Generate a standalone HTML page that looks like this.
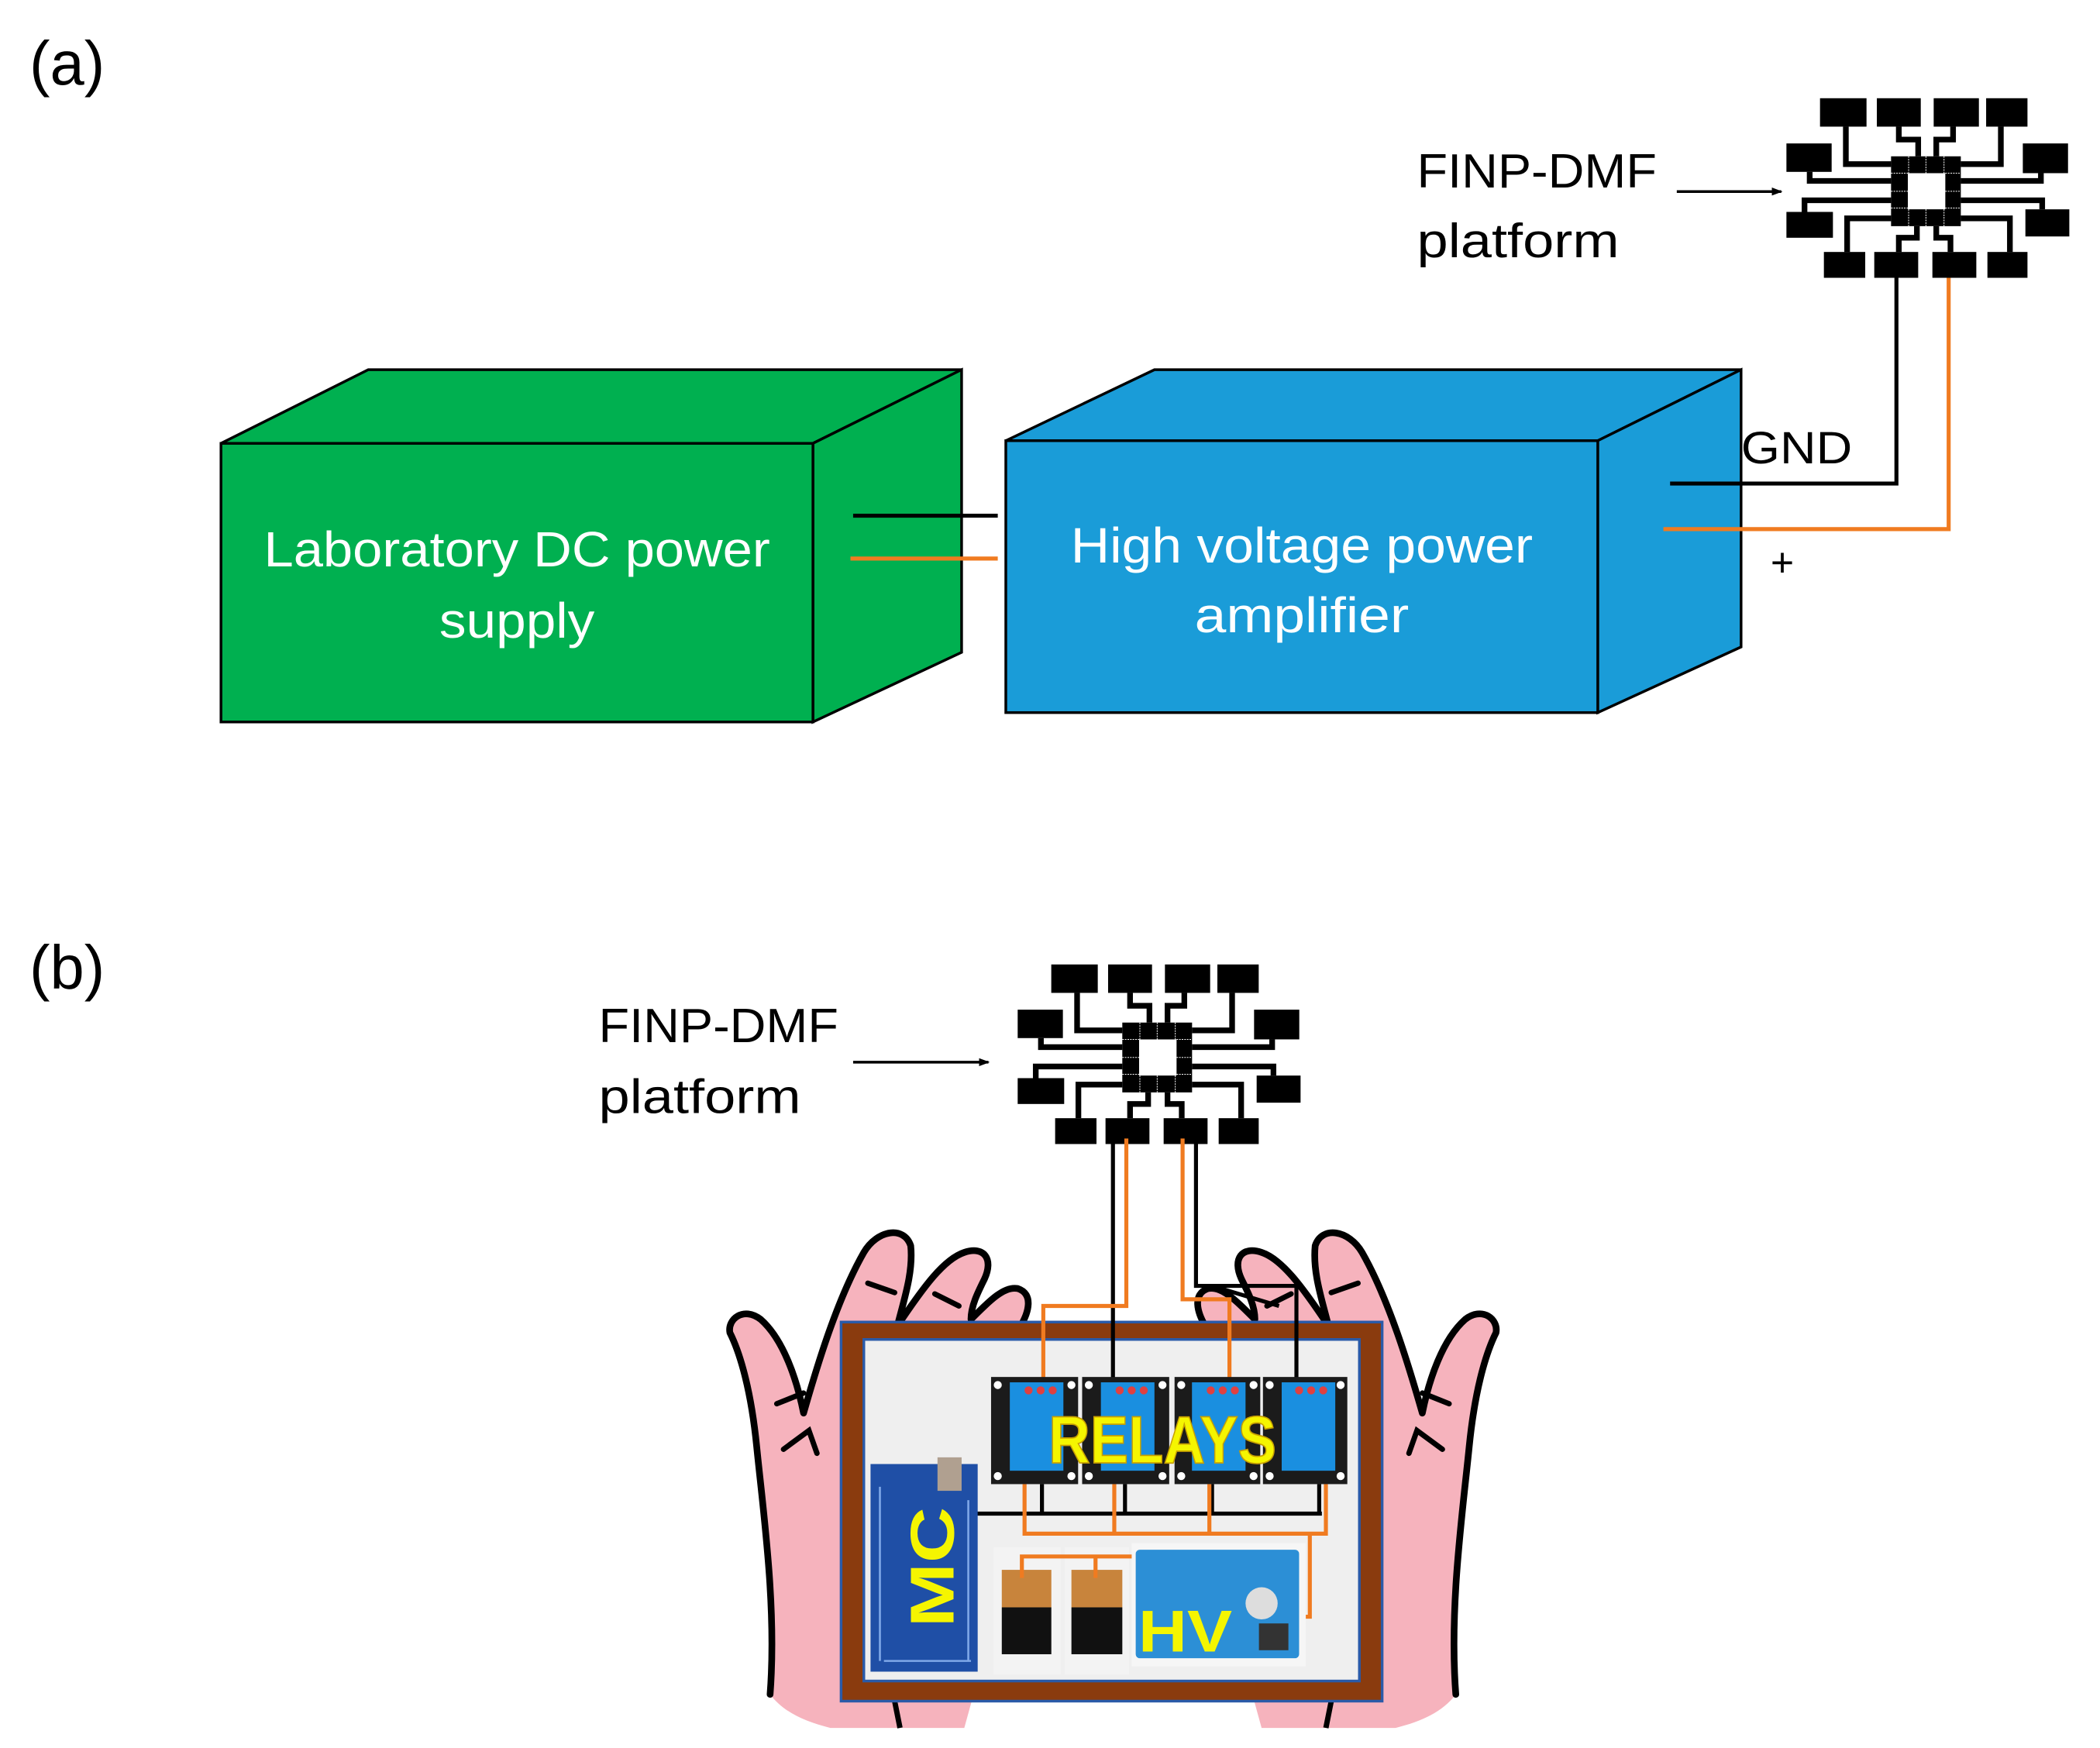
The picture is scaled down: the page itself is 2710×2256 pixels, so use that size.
<!DOCTYPE html>
<html><head><meta charset="utf-8"><style>html,body{margin:0;padding:0;background:#fff;}svg{display:block}</style></head>
<body>
<svg width="2710" height="2256" viewBox="0 0 1568 1305" preserveAspectRatio="none" xmlns="http://www.w3.org/2000/svg" font-family="'Liberation Sans', 'DejaVu Sans', sans-serif">
<defs>
<g id="chip">
 <g fill="#000">
  <rect x="205" y="80" width="180" height="110"/><rect x="425" y="80" width="170" height="110"/>
  <rect x="645" y="80" width="175" height="110"/><rect x="848" y="80" width="160" height="110"/>
  <rect x="75" y="255" width="175" height="110"/><rect x="75" y="520" width="180" height="100"/>
  <rect x="990" y="255" width="175" height="115"/><rect x="1000" y="510" width="170" height="105"/>
  <rect x="220" y="675" width="160" height="100"/><rect x="415" y="675" width="170" height="100"/>
  <rect x="640" y="675" width="170" height="100"/><rect x="853" y="675" width="155" height="100"/>
  <path d="M480 305 H750 V575 H480 Z M545 370 V510 H690 V370 Z" fill-rule="evenodd"/>
 </g>
 <g fill="none" stroke="#000" stroke-width="22">
  <path d="M305 190 V335 H480"/><path d="M510 190 V240 H585 V305"/>
  <path d="M720 190 V240 H655 V305"/><path d="M905 190 V335 H750"/>
  <path d="M165 365 V400 H480"/><path d="M145 520 V475 H480"/>
  <path d="M1060 370 V400 H750"/><path d="M1065 510 V475 H750"/>
  <path d="M310 675 V545 H480"/><path d="M510 675 V620 H580 V575"/>
  <path d="M710 675 V620 H655 V575"/><path d="M940 675 V545 H750"/>
 </g>
 <g stroke="#fff" stroke-width="3" stroke-dasharray="6 4">
  <path d="M480 370 H545 M480 440 H545 M480 505 H545 M690 370 H750 M690 440 H750 M690 505 H750 M548 305 V370 M615 305 V370 M685 305 V370 M548 510 V575 M615 510 V575 M685 510 V575"/>
 </g>
</g>
<g id="hand">
 <path d="M575 1265 C580 1200 570 1130 565 1080 C560 1030 550 1005 545 995 C543 985 555 975 568 985 C585 1000 595 1030 600 1055 C610 1020 625 970 645 935 C655 918 675 915 680 930 C682 950 675 970 670 990 C690 960 705 940 720 935 C735 930 742 940 735 955 C730 965 725 975 725 985 C740 970 750 960 760 962 C772 966 768 980 762 990 L800 1000 L720 1290 L620 1290 C600 1285 585 1278 575 1265 Z" fill="#f6b3bd"/>
 <path d="M575 1265 C580 1200 570 1130 565 1080 C560 1030 550 1005 545 995 C543 985 555 975 568 985 C585 1000 595 1030 600 1055 C610 1020 625 970 645 935 C655 918 675 915 680 930 C682 950 675 970 670 990 C690 960 705 940 720 935 C735 930 742 940 735 955 C730 965 725 975 725 985 C740 970 750 960 760 962 C772 966 768 980 762 990" fill="none" stroke="#000" stroke-width="5" stroke-linejoin="round" stroke-linecap="round"/>
 <path d="M580 1048 L600 1040 M585 1082 L604 1068 L610 1085 M648 958 L668 965 M698 966 L716 975" fill="none" stroke="#000" stroke-width="4" stroke-linecap="round"/>
 <line x1="668" y1="1270" x2="672" y2="1290" stroke="#000" stroke-width="4"/>
</g>
<marker id="ah" markerWidth="8" markerHeight="8" refX="7" refY="4" orient="auto" markerUnits="userSpaceOnUse"><path d="M0 1 L8 4 L0 7 Z" fill="#000"/></marker>
</defs>

<text x="22" y="63" font-size="46" fill="#000">(a)</text>

<polygon points="165,331 275,276 718,276 607,331" fill="#00b050" stroke="#000" stroke-width="2"/>
<polygon points="607,331 718,276 718,487 607,539" fill="#00b050" stroke="#000" stroke-width="2"/>
<rect x="165" y="331" width="442" height="208" fill="#00b050" stroke="#000" stroke-width="2"/>
<text x="386" y="423" font-size="37" fill="#fff" text-anchor="middle" textLength="378" lengthAdjust="spacingAndGlyphs">Laboratory DC power</text>
<text x="386" y="476" font-size="37" fill="#fff" text-anchor="middle" textLength="116" lengthAdjust="spacingAndGlyphs">supply</text>

<polygon points="751,329 862,276 1300,276 1193,329" fill="#1a9cd8" stroke="#000" stroke-width="2"/>
<polygon points="1193,329 1300,276 1300,483 1193,532" fill="#1a9cd8" stroke="#000" stroke-width="2"/>
<rect x="751" y="329" width="442" height="203" fill="#1a9cd8" stroke="#000" stroke-width="2"/>
<text x="972" y="420" font-size="37" fill="#fff" text-anchor="middle" textLength="345" lengthAdjust="spacingAndGlyphs">High voltage power</text>
<text x="972" y="472" font-size="37" fill="#fff" text-anchor="middle" textLength="160" lengthAdjust="spacingAndGlyphs">amplifier</text>

<line x1="637" y1="385" x2="745" y2="385" stroke="#000" stroke-width="3"/>
<line x1="635" y1="417" x2="745" y2="417" stroke="#f07b20" stroke-width="3"/>

<text x="1300" y="346" font-size="34" fill="#000" textLength="83" lengthAdjust="spacingAndGlyphs">GND</text>
<path d="M1247 361 H1416 V192" fill="none" stroke="#000" stroke-width="3"/>
<path d="M1242 395 H1455 V192" fill="none" stroke="#f07b20" stroke-width="3"/>
<text x="1322" y="430" font-size="30" fill="#000">+</text>

<text x="1058" y="140" font-size="36" fill="#000" textLength="179" lengthAdjust="spacingAndGlyphs">FINP-DMF</text>
<text x="1058" y="192" font-size="36" fill="#000" textLength="151" lengthAdjust="spacingAndGlyphs">platform</text>
<line x1="1252" y1="143" x2="1330" y2="143" stroke="#000" stroke-width="2" marker-end="url(#ah)"/>
<use href="#chip" transform="translate(1319.4,57.9) scale(0.1929)"/>

<text x="22" y="738" font-size="46" fill="#000">(b)</text>
<text x="447" y="778" font-size="36" fill="#000" textLength="179" lengthAdjust="spacingAndGlyphs">FINP-DMF</text>
<text x="447" y="831" font-size="36" fill="#000" textLength="151" lengthAdjust="spacingAndGlyphs">platform</text>
<line x1="637" y1="793" x2="738" y2="793" stroke="#000" stroke-width="2" marker-end="url(#ah)"/>
<use href="#chip" transform="translate(745.4,704.6) scale(0.1929)"/>

<use href="#hand"/>
<use href="#hand" transform="translate(1662,0) scale(-1,1)"/>

<rect x="628" y="987" width="404" height="283" fill="#8a3b0e" stroke="#2a5aa8" stroke-width="2"/>
<rect x="645" y="1000" width="370" height="255" fill="#efefef" stroke="#2a5aa8" stroke-width="2"/>

<path d="M831 850 V1035" stroke="#000" stroke-width="3" fill="none"/>
<path d="M841 850 V975 H779 V1035" stroke="#f07b20" stroke-width="3" fill="none"/>
<path d="M883 850 V970 H918 V1035" stroke="#f07b20" stroke-width="3" fill="none"/>
<path d="M893 850 V960 H968 V1035 M905 960 L955 975" stroke="#000" stroke-width="3" fill="none"/>

<g>
 <rect x="740" y="1028" width="65" height="80" fill="#1b1b1b"/>
 <rect x="808" y="1028" width="65" height="80" fill="#1b1b1b"/>
 <rect x="877" y="1028" width="64" height="80" fill="#1b1b1b"/>
 <rect x="943" y="1028" width="63" height="80" fill="#1b1b1b"/>
 <rect x="754" y="1032" width="40" height="66" fill="#1a8fe0"/>
 <rect x="822" y="1032" width="40" height="66" fill="#1a8fe0"/>
 <rect x="890" y="1032" width="40" height="66" fill="#1a8fe0"/>
 <rect x="957" y="1032" width="40" height="66" fill="#1a8fe0"/>
 <g fill="#e04040"><circle cx="768" cy="1038" r="3"/><circle cx="777" cy="1038" r="3"/><circle cx="786" cy="1038" r="3"/>
 <circle cx="836" cy="1038" r="3"/><circle cx="845" cy="1038" r="3"/><circle cx="854" cy="1038" r="3"/>
 <circle cx="904" cy="1038" r="3"/><circle cx="913" cy="1038" r="3"/><circle cx="922" cy="1038" r="3"/>
 <circle cx="970" cy="1038" r="3"/><circle cx="979" cy="1038" r="3"/><circle cx="988" cy="1038" r="3"/></g>
 <g fill="#fff"><circle cx="745" cy="1034" r="3"/><circle cx="800" cy="1034" r="3"/><circle cx="745" cy="1102" r="3"/><circle cx="800" cy="1102" r="3"/>
 <circle cx="813" cy="1034" r="3"/><circle cx="868" cy="1034" r="3"/><circle cx="813" cy="1102" r="3"/><circle cx="868" cy="1102" r="3"/>
 <circle cx="882" cy="1034" r="3"/><circle cx="936" cy="1034" r="3"/><circle cx="882" cy="1102" r="3"/><circle cx="936" cy="1102" r="3"/>
 <circle cx="948" cy="1034" r="3"/><circle cx="1001" cy="1034" r="3"/><circle cx="948" cy="1102" r="3"/><circle cx="1001" cy="1102" r="3"/></g>
</g>
<text x="868" y="1092" font-size="50" font-weight="bold" fill="#f5f500" stroke="#c8a000" stroke-width="1" text-anchor="middle" textLength="170" lengthAdjust="spacingAndGlyphs">RELAYS</text>

<path d="M712 1130 H987 M778 1108 V1130 M840 1108 V1130 M905 1108 V1130 M985 1108 V1130" stroke="#000" stroke-width="3" fill="none"/>
<path d="M765 1108 V1145 H990 V1108 M832 1108 V1145 M903 1108 V1145 M978 1145 V1207 H965" stroke="#f07b20" stroke-width="3" fill="none"/>

<rect x="650" y="1093" width="80" height="155" fill="#1f4fa6"/>
<rect x="700" y="1088" width="18" height="25" fill="#b0a090"/>
<g stroke="#7fa8e8" stroke-width="1.5" fill="none"><path d="M657 1110 V1240 M723 1120 V1240 M660 1240 H725"/></g>
<text x="0" y="0" font-size="46" font-weight="bold" fill="#f5f500" transform="translate(712,1215) rotate(-90)" textLength="90" lengthAdjust="spacingAndGlyphs">MC</text>

<rect x="742" y="1155" width="50" height="95" fill="#f3f3f3"/>
<rect x="795" y="1155" width="48" height="95" fill="#f3f3f3"/>
<rect x="748" y="1172" width="37" height="28" fill="#c8843c"/><rect x="748" y="1200" width="37" height="35" fill="#111"/>
<rect x="800" y="1172" width="38" height="28" fill="#c8843c"/><rect x="800" y="1200" width="38" height="35" fill="#111"/>
<path d="M763 1178 V1162 H850 M818 1178 V1162" stroke="#f07b20" stroke-width="3" fill="none"/>

<rect x="845" y="1152" width="130" height="92" fill="#f6f6f6"/>
<rect x="848" y="1157" width="122" height="81" rx="3" fill="#2c8fd6"/>
<circle cx="942" cy="1197" r="12" fill="#ddd"/>
<rect x="940" y="1212" width="22" height="20" fill="#333"/>
<text x="850" y="1233" font-size="44" font-weight="bold" fill="#f5f500" textLength="70" lengthAdjust="spacingAndGlyphs">HV</text>
</svg>
</body></html>
